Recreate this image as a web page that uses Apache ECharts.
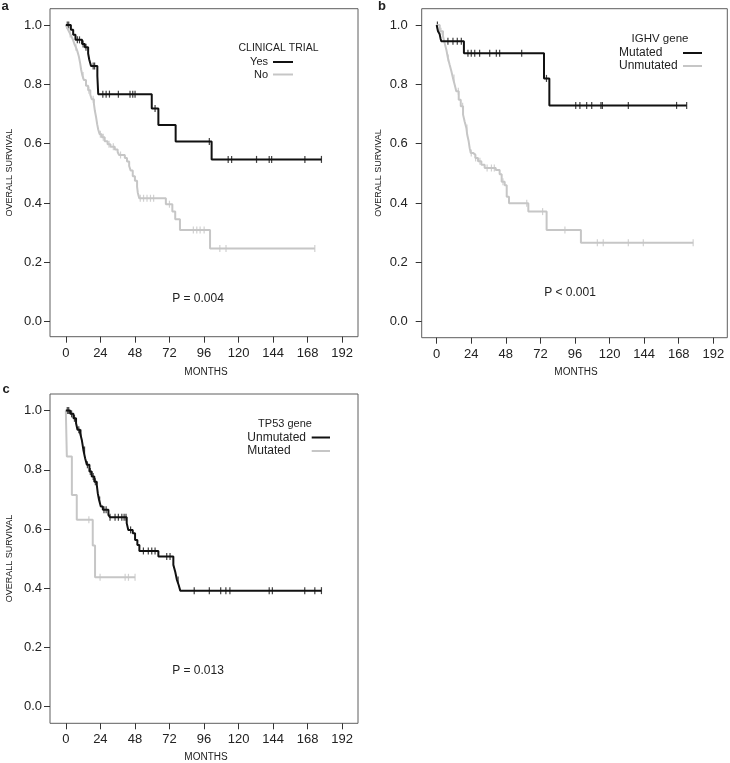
<!DOCTYPE html>
<html>
<head>
<meta charset="utf-8">
<script src="https://cdn.jsdelivr.net/npm/echarts@6/dist/echarts.min.js"></script>
<style>
html,body{margin:0;padding:0;background:#fff;}
#chart{width:730px;height:763px;}
</style>
</head>
<body>
<div id="chart"></div>
<script>
// ---------- DATA ----------
const xTicks = [0, 24, 48, 72, 96, 120, 144, 168, 192];
const yTicks = [0, 0.2, 0.4, 0.6, 0.8, 1.0];

// Panel a: CLINICAL TRIAL
const aYesTimes = [0, 3.5, 5.1, 6.7, 11.3, 13.2, 15.5, 16.3, 17.5, 21.9, 22.5, 59.7, 64.3, 76.3, 101.3, 177.6];
const aYesSurv  = [1, 0.984, 0.967, 0.950, 0.936, 0.925, 0.904, 0.883, 0.862, 0.828, 0.767, 0.719, 0.663, 0.607, 0.547, 0.547];
const aYesCens  = [1, 2, 8, 9.5, 12, 14, 19, 20, 25.7, 28, 30.3, 36.5, 44.6, 46.5, 48.1, 62, 99.7, 112.8, 115.2, 132.5, 141.3, 143, 166.1, 177.6];

const aNoTimes = [0, 1, 2, 3, 4, 5, 6, 7, 8, 9, 10, 10.6, 11.5, 12.5, 14, 15.5, 17, 18, 19.5, 20.2, 21, 21.8, 22.5, 23.5, 25, 27, 29, 31, 34, 36, 37, 41, 42.5, 44, 45, 46.5, 48, 49.5, 50, 51, 69.5, 74, 76, 79.3, 100.2, 173];
const aNoSurv  = [1, 0.99, 0.98, 0.97, 0.96, 0.95, 0.935, 0.925, 0.912, 0.895, 0.87, 0.85, 0.83, 0.815, 0.795, 0.78, 0.765, 0.75, 0.735, 0.71, 0.69, 0.665, 0.648, 0.632, 0.622, 0.608, 0.598, 0.59, 0.58, 0.572, 0.562, 0.552, 0.54, 0.525, 0.51, 0.49, 0.475, 0.455, 0.435, 0.416, 0.396, 0.371, 0.345, 0.309, 0.247, 0.247];
const aNoCens  = [3, 7, 12, 16, 19, 24, 26, 30, 33, 38, 51.7, 54, 56.4, 58.8, 61, 72, 88.6, 91, 93.3, 96.1, 107, 111.3, 173];

// Panel b: IGHV gene
const bMutTimes = [0, 0.9, 2, 2.7, 3.2, 18.9, 74.5, 78.2, 173.5];
const bMutSurv  = [1, 0.979, 0.970, 0.954, 0.945, 0.905, 0.82, 0.729, 0.729];
const bMutCens  = [0.5, 7.8, 11.3, 14.3, 17.1, 21.7, 24, 26.4, 29.8, 36.8, 41.4, 43.7, 59, 76.2, 96.5, 99.4, 104.1, 107.6, 114, 115, 133, 166.5, 173.5];

const bUnmTimes = [0, 2.1, 4.4, 5.5, 6.7, 7.8, 9, 10.2, 11.3, 12.5, 13.6, 15.3, 16.7, 18.3, 19.4, 20.6, 21.2, 22.2, 22.9, 23.6, 25.2, 26.8, 28.7, 31, 33.3, 41, 43.7, 45.1, 47.2, 48.6, 50.2, 63.6, 76.3, 100.1, 178];
const bUnmSurv  = [1, 0.979, 0.962, 0.939, 0.917, 0.889, 0.866, 0.844, 0.821, 0.799, 0.777, 0.748, 0.726, 0.698, 0.675, 0.653, 0.63, 0.608, 0.585, 0.569, 0.563, 0.552, 0.541, 0.529, 0.518, 0.511, 0.497, 0.472, 0.46, 0.421, 0.399, 0.371, 0.309, 0.266, 0.266];
const bUnmCens  = [3, 8, 12, 15, 18, 21, 24, 27, 30, 35, 38, 40, 46, 62.5, 73.5, 89, 111.5, 115.6, 133, 143.4, 178];

// Panel c: TP53 gene
const cUnmTimes = [0, 3, 5.3, 7.1, 8.1, 9.9, 11.1, 12.2, 13.4, 14.6, 16.4, 18, 19.8, 21.5, 22.2, 23.1, 24.3, 25.7, 29.6, 30.7, 42.3, 43.4, 46.5, 48.1, 49.7, 51.1, 64.3, 74.7, 76, 77.2, 78.4, 79.5, 177.6];
const cUnmSurv  = [1, 0.989, 0.974, 0.957, 0.935, 0.924, 0.901, 0.867, 0.839, 0.817, 0.794, 0.777, 0.76, 0.749, 0.721, 0.698, 0.676, 0.665, 0.648, 0.64, 0.62, 0.597, 0.586, 0.563, 0.546, 0.526, 0.507, 0.479, 0.456, 0.428, 0.411, 0.392, 0.392];
const cUnmCens  = [1, 2, 4, 6, 9, 10.5, 13, 15, 17, 19, 20.5, 23.5, 26.5, 28, 30.7, 34.2, 36.5, 38.9, 40.5, 41.8, 45, 53.9, 57.3, 59.7, 62, 70.1, 72.4, 78, 89.2, 99.7, 107.6, 111.2, 114, 141.3, 143.5, 166, 173, 177.6];

const cMutTimes = [0, 0.7, 4.2, 7.6, 18.7, 20.3, 48.1];
const cMutSurv  = [1, 0.845, 0.715, 0.631, 0.544, 0.437, 0.437];
const cMutCens  = [16, 23.8, 41.2, 43.5, 48.1];

const pValues = ['P = 0.004', 'P < 0.001', 'P = 0.013'];

// ---------- STYLE ----------
const FONT = 'Liberation Sans, Arial, sans-serif';
const BLACK = '#111111';
const GRAY = '#c6c6c6';
const TXT = '#222222';

function stepAt(times, surv, t) {
  let v = surv[0];
  for (let i = 0; i < times.length; i++) if (times[i] <= t) v = surv[i];
  return v;
}

const grids = [
  {left: 50, top: 8.7, width: 308, height: 328},
  {left: 421.7, top: 8.7, width: 305.6, height: 329},
  {left: 50, top: 394, width: 308, height: 329.3}
];
const xRanges = [[-11, 203], [-10.4, 201.7], [-11, 203]];
const yRanges = [[-0.0506, 1.055], [-0.054, 1.055], [-0.056, 1.056]];
const yLabelMargin = [8, 14, 8];

const option = {
  animation: false,
  backgroundColor: '#ffffff',
  grid: grids.map(g => Object.assign({show: true, borderColor: '#5e5e5e', borderWidth: 1, backgroundColor: 'transparent'}, g)),
  xAxis: grids.map((g, i) => ({
    type: 'value', gridIndex: i, min: xRanges[i][0], max: xRanges[i][1],
    position: 'bottom',
    axisLine: {show: false, onZero: false},
    splitLine: {show: false},
    axisTick: {show: true, length: 6, customValues: xTicks, lineStyle: {color: '#333', width: 1}},
    axisLabel: {customValues: xTicks, margin: 10, color: TXT, fontSize: 13, fontFamily: FONT}
  })),
  yAxis: grids.map((g, i) => ({
    type: 'value', gridIndex: i, min: yRanges[i][0], max: yRanges[i][1],
    position: 'left',
    axisLine: {show: false, onZero: false},
    splitLine: {show: false},
    axisTick: {show: true, length: 6, customValues: yTicks, lineStyle: {color: '#333', width: 1}},
    axisLabel: {customValues: yTicks, margin: yLabelMargin[i], color: TXT, fontSize: 13, fontFamily: FONT,
      formatter: v => v.toFixed(1)}
  })),
  series: []
};

function addCurve(idx, times, surv, cens, color, w) {
  option.series.push({
    type: 'line', xAxisIndex: idx, yAxisIndex: idx, step: 'end',
    data: times.map((t, i) => [t, surv[i]]),
    symbol: 'none', showSymbol: false, silent: true,
    lineStyle: {color: color, width: w}
  });
  option.series.push({
    type: 'scatter', xAxisIndex: idx, yAxisIndex: idx, silent: true,
    data: cens.map(t => [t, stepAt(times, surv, t)]),
    symbol: 'rect', symbolSize: [1.2, 7],
    itemStyle: {color: color}
  });
}
addCurve(0, aNoTimes, aNoSurv, aNoCens, GRAY, 2);
addCurve(0, aYesTimes, aYesSurv, aYesCens, BLACK, 2);
addCurve(1, bUnmTimes, bUnmSurv, bUnmCens, GRAY, 2);
addCurve(1, bMutTimes, bMutSurv, bMutCens, BLACK, 2);
addCurve(2, cMutTimes, cMutSurv, cMutCens, GRAY, 2);
addCurve(2, cUnmTimes, cUnmSurv, cUnmCens, BLACK, 2);

function txt(text, x, y, size, align, extra) {
  return Object.assign({
    type: 'text', x: x, y: y, silent: true,
    style: {text: text, fontSize: size, fontFamily: FONT, fill: TXT, align: align || 'center', verticalAlign: 'middle'}
  }, extra || {});
}
function seg(x1, x2, y, color) {
  return {type: 'line', silent: true, shape: {x1: x1, y1: y, x2: x2, y2: y}, style: {stroke: color, lineWidth: 2}};
}

const graphics = [
  // panel letters
  txt('a', 5, 6.5, 13, 'center'),
  txt('b', 382, 6, 13, 'center'),
  txt('c', 6, 389.5, 13, 'center'),
  // y titles
  txt('OVERALL SURVIVAL', 9.5, 172.7, 9, 'center', {rotation: Math.PI / 2}),
  txt('OVERALL SURVIVAL', 379, 173, 9, 'center', {rotation: Math.PI / 2}),
  txt('OVERALL SURVIVAL', 9.5, 558.5, 9, 'center', {rotation: Math.PI / 2}),
  // x titles
  txt('MONTHS', 206, 372, 10, 'center'),
  txt('MONTHS', 576, 372, 10, 'center'),
  txt('MONTHS', 206, 757.5, 10, 'center'),
  // p values
  txt(pValues[0], 198, 298.3, 12, 'center'),
  txt(pValues[1], 570, 292.3, 12, 'center'),
  txt(pValues[2], 198, 671, 12, 'center'),
  // legend a
  txt('CLINICAL TRIAL', 278.5, 48, 10.5, 'center'),
  txt('Yes', 268, 62, 11, 'right'),
  txt('No', 268, 74.5, 11, 'right'),
  seg(273, 293, 62, BLACK),
  seg(273, 293, 74.5, GRAY),
  // legend b
  txt('IGHV gene', 660, 38.5, 11.5, 'center'),
  txt('Mutated', 619, 52.5, 12, 'left'),
  txt('Unmutated', 619, 66, 12, 'left'),
  seg(683, 702, 53, BLACK),
  seg(683, 702, 66, GRAY),
  // legend c
  txt('TP53 gene', 285, 423.5, 11, 'center'),
  txt('Unmutated', 247.3, 437.5, 12, 'left'),
  txt('Mutated', 247.3, 451, 12, 'left'),
  seg(311.7, 330, 437.5, BLACK),
  seg(311.7, 330, 451, GRAY)
];
graphics[0].style.fontWeight = 'bold';
graphics[1].style.fontWeight = 'bold';
graphics[2].style.fontWeight = 'bold';
option.graphic = graphics;

const chart = echarts.init(document.getElementById('chart'), null, {renderer: 'canvas'});
chart.setOption(option);
</script>
</body>
</html>
